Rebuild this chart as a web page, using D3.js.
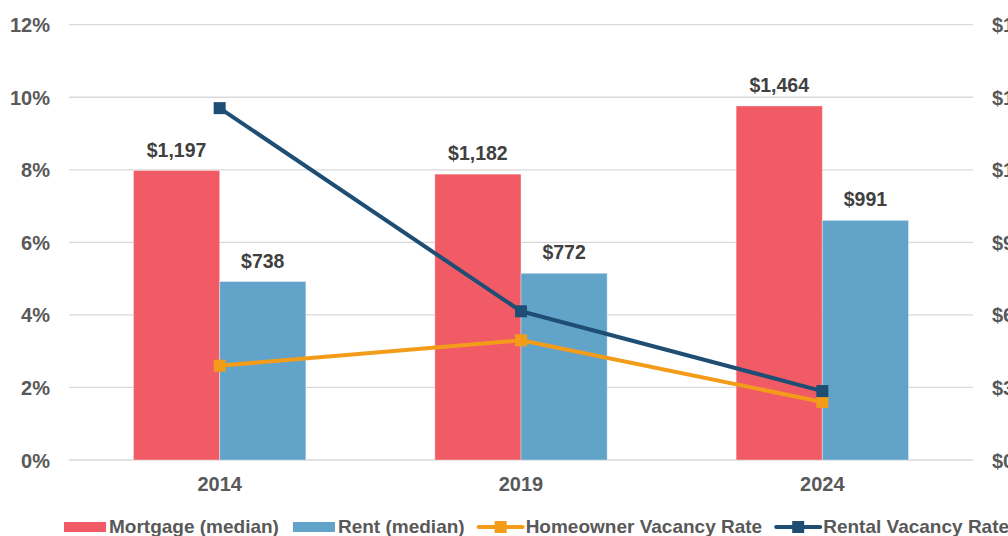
<!DOCTYPE html>
<html>
<head>
<meta charset="utf-8">
<script src="https://cdn.jsdelivr.net/npm/d3@7"></script>
<style>
  html, body { margin: 0; padding: 0; background: #fff; }
  svg { display: block; font-family: "Liberation Sans", Arial, sans-serif; }
</style>
</head>
<body>
<svg id="chart" width="1008" height="536"></svg>
<script>
const categories = ["2014", "2019", "2024"];
const mortgage = [1197, 1182, 1464];
const rent = [738, 772, 991];
const homeownerVacancy = [2.6, 3.3, 1.6];
const rentalVacancy = [9.7, 4.1, 1.9];
const leftTicks = [0, 2, 4, 6, 8, 10, 12];
const rightTicks = [0, 300, 600, 900, 1200, 1500, 1800];
const barSeries = ["Mortgage (median)", "Rent (median)"];
const lineSeries = ["Homeowner Vacancy Rate", "Rental Vacancy Rate"];

const colors = {
  "Mortgage (median)": "#F05B65",
  "Rent (median)": "#62A3C9",
  "Homeowner Vacancy Rate": "#F39C1A",
  "Rental Vacancy Rate": "#1F4E74"
};

const svg = d3.select("#chart");
const plotL = 69, plotR = 973, plotT = 24.7, plotB = 460;

const x0 = d3.scaleBand().domain(categories).range([plotL, plotR])
  .paddingInner(0.428).paddingOuter(0.214);
const x1 = d3.scaleBand().domain(barSeries).range([0, x0.bandwidth()]);
const yL = d3.scaleLinear().domain([0, 12]).range([plotB, plotT]);
const yR = d3.scaleLinear().domain([0, 1800]).range([plotB, plotT]);

// gridlines
svg.append("g").selectAll("line").data(leftTicks).join("line")
  .attr("x1", plotL).attr("x2", plotR)
  .attr("y1", d => yL(d)).attr("y2", d => yL(d))
  .attr("stroke", "#D9D9D9").attr("stroke-width", 1.3);

// left axis
const axL = d3.axisLeft(yL).tickValues(leftTicks).tickFormat(d => d + "%").tickSize(0).tickPadding(0);
const gL = svg.append("g").attr("transform", `translate(50,0)`).call(axL);
gL.select(".domain").remove();
gL.selectAll("text").attr("font-size", 20).attr("font-weight", "bold").attr("fill", "#595959")
  .attr("font-family", "Liberation Sans, Arial, sans-serif").attr("dy", "0.35em");

// right axis
const axR = d3.axisRight(yR).tickValues(rightTicks).tickFormat(d => "$" + d3.format(",")(d)).tickSize(0).tickPadding(0);
const gR = svg.append("g").attr("transform", `translate(992,0)`).call(axR);
gR.select(".domain").remove();
gR.selectAll("text").attr("font-size", 20).attr("font-weight", "bold").attr("fill", "#595959")
  .attr("font-family", "Liberation Sans, Arial, sans-serif").attr("dy", "0.35em");

// bottom axis labels
const axB = d3.axisBottom(x0).tickSize(0).tickPadding(0);
const gB = svg.append("g").attr("transform", `translate(0,${plotB})`).call(axB);
gB.select(".domain").remove();
gB.selectAll("text").attr("font-size", 20).attr("font-weight", "bold").attr("fill", "#595959")
  .attr("font-family", "Liberation Sans, Arial, sans-serif").attr("y", 31).attr("dy", 0);

// bars
const barData = categories.map((c, i) => ({
  cat: c,
  vals: [{s: barSeries[0], v: mortgage[i]}, {s: barSeries[1], v: rent[i]}]
}));
const groups = svg.append("g").selectAll("g").data(barData).join("g")
  .attr("transform", d => `translate(${x0(d.cat)},0)`);
groups.selectAll("rect").data(d => d.vals).join("rect")
  .attr("x", d => x1(d.s)).attr("width", x1.bandwidth())
  .attr("y", d => yR(d.v)).attr("height", d => plotB - yR(d.v))
  .attr("fill", d => colors[d.s])
  .attr("stroke", "rgba(255,255,255,0.35)").attr("stroke-width", 1);
groups.selectAll("text").data(d => d.vals).join("text")
  .attr("x", d => x1(d.s) + x1.bandwidth() / 2)
  .attr("y", d => yR(d.v) - 14)
  .attr("text-anchor", "middle")
  .attr("font-size", 19.5).attr("font-weight", "bold").attr("fill", "#404040")
  .text(d => "$" + d3.format(",")(d.v));

// lines
const cx = c => x0(c) + x0.bandwidth() / 2;
const lineData = [
  {s: lineSeries[0], vals: homeownerVacancy},
  {s: lineSeries[1], vals: rentalVacancy}
];
const line = d3.line().x((d, i) => cx(categories[i])).y(d => yL(d));
lineData.forEach(ld => {
  const g = svg.append("g");
  g.append("path").datum(ld.vals).attr("d", line)
    .attr("fill", "none").attr("stroke", colors[ld.s]).attr("stroke-width", 4)
    .attr("stroke-linejoin", "round");
  g.selectAll("rect").data(ld.vals).join("rect")
    .attr("x", (d, i) => cx(categories[i]) - 6).attr("y", d => yL(d) - 6)
    .attr("width", 12).attr("height", 12).attr("fill", colors[ld.s]);
});

// legend
const legend = svg.append("g");
let lx = 64;
const ly = 527;
const items = [
  {s: barSeries[0], type: "bar"}, {s: barSeries[1], type: "bar"},
  {s: lineSeries[0], type: "line"}, {s: lineSeries[1], type: "line"}
];
items.forEach(it => {
  if (it.type === "bar") {
    legend.append("rect").attr("x", lx).attr("y", ly - 5).attr("width", 42).attr("height", 10)
      .attr("fill", colors[it.s]);
    lx += 45;
  } else {
    legend.append("line").attr("x1", lx).attr("x2", lx + 44).attr("y1", ly).attr("y2", ly)
      .attr("stroke", colors[it.s]).attr("stroke-width", 4).attr("stroke-linecap", "round");
    legend.append("rect").attr("x", lx + 22 - 6).attr("y", ly - 6).attr("width", 12).attr("height", 12)
      .attr("fill", colors[it.s]);
    lx += 47;
  }
  const t = legend.append("text").attr("x", lx).attr("y", 533)
    .attr("font-size", 19).attr("font-weight", "bold").attr("fill", "#595959").text(it.s);
  lx += t.node().getComputedTextLength() + 14;
});
</script>
</body>
</html>
